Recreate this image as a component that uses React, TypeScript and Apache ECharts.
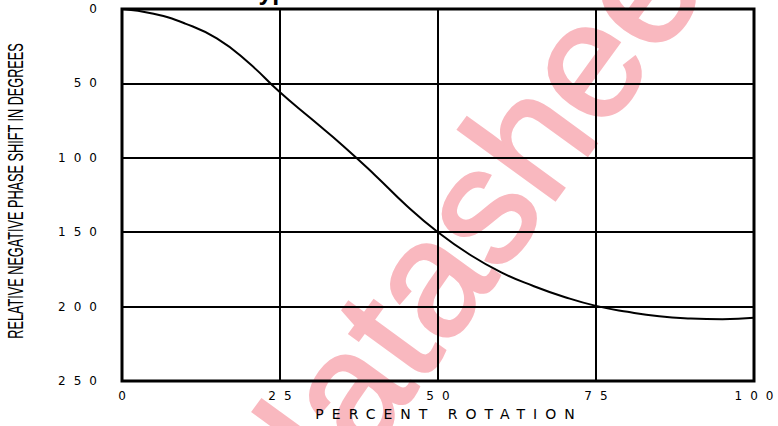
import React, { useEffect, useRef } from "react";
import * as echarts from "echarts";

// Percent rotation (x) and relative negative phase shift in degrees (y)
const percentRotation = [0, 5, 10, 15, 20, 25, 30, 35, 40, 45, 50, 55, 60, 65, 70, 75, 80, 85, 90, 95, 100];
const phaseShift = [0, 3.2, 9.8, 19.8, 36, 56, 74, 92, 111.5, 132, 150, 165, 177, 186, 193.5, 199.5, 203.5, 206.5, 208, 208.5, 207.5];

const xTickStep = 25;
const xRange = [0, 100];
const yTickStep = 50;
const yRange = [0, 250];

const titleText = "Typical Phase Shift Curve";
const xAxisName = "PERCENT ROTATION";
const yAxisName = "RELATIVE NEGATIVE PHASE SHIFT IN DEGREES";
const watermarkText = "datasheet";

export default function App() {
  const ref = useRef<HTMLDivElement>(null);

  useEffect(() => {
    document.body.style.margin = "0";
    const chart = echarts.init(ref.current as HTMLDivElement, null, { renderer: "svg" });
    const tickFont = "DejaVu Sans";
    chart.setOption({
      animation: false,
      backgroundColor: "#ffffff",
      title: {
        text: titleText,
        left: 240,
        top: -27,
        textStyle: { fontFamily: "Liberation Sans", fontWeight: "bold", fontSize: 25, color: "#000" },
      },
      grid: {
        left: 122,
        right: 24,
        top: 9,
        bottom: 43,
        show: true,
        borderColor: "#000",
        borderWidth: 3,
        containLabel: false,
      },
      xAxis: {
        type: "value",
        min: xRange[0],
        max: xRange[1],
        interval: xTickStep,
        axisLine: { show: false },
        axisTick: { show: false },
        splitLine: { show: true, lineStyle: { color: "#000", width: 2 } },
        axisLabel: {
          color: "#000",
          fontFamily: tickFont,
          fontSize: 12,
          margin: 9,
          padding: [0, 0, 0, 8],
        },
        name: xAxisName,
        nameLocation: "middle",
        nameGap: 26,
        nameTextStyle: {
          color: "#000",
          fontFamily: tickFont,
          fontSize: 14,
          padding: [0, 0, 0, 22],
        },
      },
      yAxis: {
        type: "value",
        inverse: true,
        min: yRange[0],
        max: yRange[1],
        interval: yTickStep,
        axisLine: { show: false },
        axisTick: { show: false },
        splitLine: { show: true, lineStyle: { color: "#000", width: 2 } },
        axisLabel: {
          color: "#000",
          fontFamily: tickFont,
          fontSize: 12,
          margin: 17,
        },
      },
      graphic: [
        {
          type: "text",
          x: 265,
          y: 502,
          rotation: (54 * Math.PI) / 180,
          z: -10,
          silent: true,
          style: {
            text: watermarkText,
            fontSize: 165,
            fontFamily: "Liberation Sans",
            fill: "#f9b8bf",
            stroke: "#f9b8bf",
            lineWidth: 3,
            align: "left",
            verticalAlign: "middle",
          },
        },
        {
          type: "text",
          x: 16,
          y: 191,
          rotation: Math.PI / 2,
          scaleX: 0.577,
          style: {
            text: yAxisName,
            fontSize: 22,
            fontFamily: "Liberation Sans",
            fill: "#000",
            align: "center",
            verticalAlign: "middle",
          },
        },
      ],
      series: [
        {
          type: "line",
          data: percentRotation.map((x, i) => [x, phaseShift[i]]),
          showSymbol: false,
          smooth: 0.5,
          z: 5,
          lineStyle: { color: "#000", width: 2 },
          itemStyle: { color: "#000" },
        },
      ],
    });
    return () => chart.dispose();
  }, []);

  return (
    <>
      <style>{`.phase-chart text[style*="DejaVu"]{letter-spacing:8px;}`}</style>
      <div ref={ref} className="phase-chart" style={{ width: 778, height: 426 }} />
    </>
  );
}
